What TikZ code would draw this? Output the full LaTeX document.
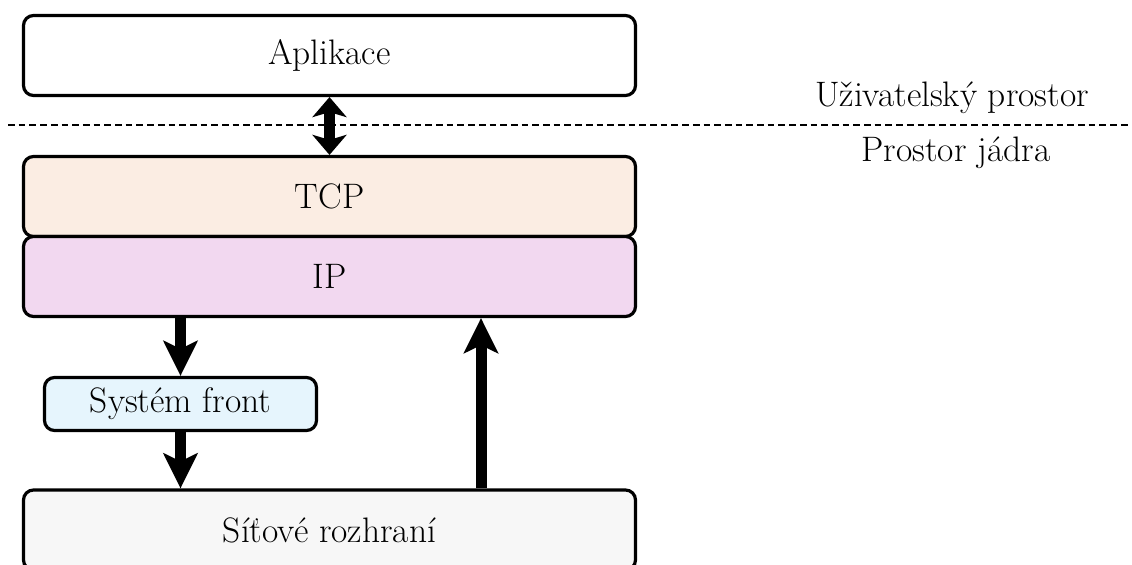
\documentclass[tikz,border=0pt]{standalone}
\usetikzlibrary{arrows.meta}

\definecolor{tcpfill}{HTML}{FBEDE3}
\definecolor{ipfill}{HTML}{F2D8F0}
\definecolor{queuefill}{HTML}{E6F5FD}
\definecolor{nicfill}{HTML}{F7F7F7}

\tikzset{
  layer/.style={draw, line width=1.6pt, rounded corners=5pt, inner sep=0pt,
    minimum width=306pt, minimum height=40pt,
    font=\fontsize{17.7}{21}\selectfont},
  smallbox/.style={layer, minimum width=136pt, minimum height=26.5pt},
  flow/.style={line width=5.5pt,
    -{Stealth[length=17.5pt, width=17pt, inset=4pt]}},
  both/.style={line width=5.5pt,
    {Stealth[length=10pt, width=17pt, inset=2.5pt]}-{Stealth[length=10pt, width=17pt, inset=2.5pt]}},
  border/.style={line width=0.85pt, dash pattern=on 3.35pt off 2pt},
  spacelabel/.style={anchor=base, inner sep=0pt, font=\fontsize{17.7}{21}\selectfont}
}

\begin{document}
\begin{tikzpicture}[x=0.5pt, y=-0.5pt]
  \useasboundingbox (0,0) rectangle (1132,565);

  % user/kernel boundary
  \coordinate (bl) at (8,125);
  \coordinate (br) at (1130,125);
  \draw[border] (bl) -- (br);
  \node[spacelabel] (user) at (952,107) {Uživatelský prostor};
  \node[spacelabel] (kernel) at (956,162) {Prostor jádra};

  % protocol stack
  \node[layer, fill=white] (app) at (329.5,55.5) {Aplikace};
  \node[layer, fill=tcpfill] (tcp) at (329.5,196.5) {TCP};
  \node[layer, fill=ipfill] (ip) at (329.5,276.5) {IP};
  \node[smallbox, fill=queuefill] (queue) at (180.5,404) {Systém front};
  \node[layer, fill=nicfill] (nic) at (329.5,530) {Síťové rozhraní};

  % data paths
  \draw[both] (app.south) -- (tcp.north);
  \draw[flow] (ip.south -| queue.north) -- (queue.north);
  \draw[flow] (queue.south) -- (queue.south |- nic.north);
  \coordinate (rx) at (481,490);
  \draw[flow] (nic.north -| rx) -- (ip.south -| rx);
\end{tikzpicture}
\end{document}
